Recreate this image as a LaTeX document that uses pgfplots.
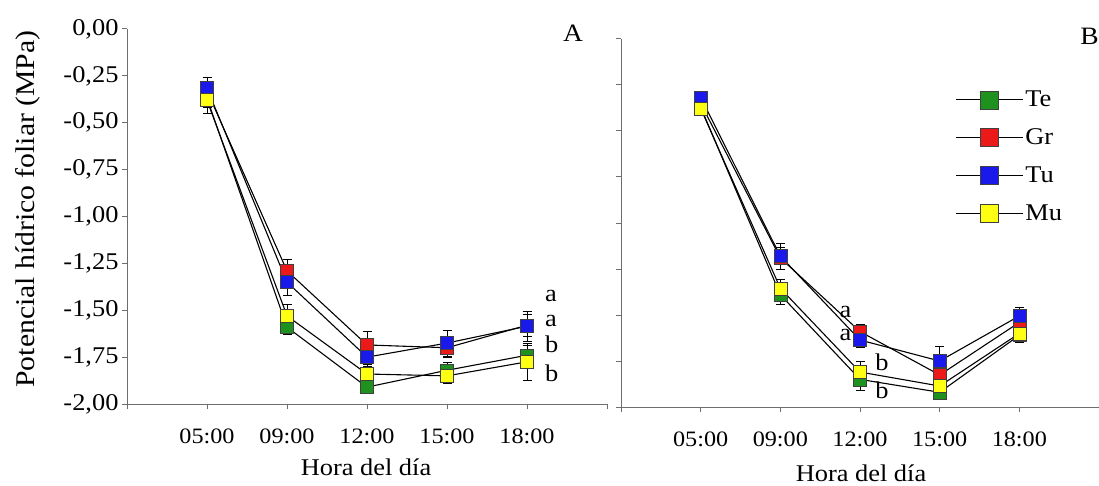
\documentclass[border=0pt]{standalone}
\usepackage{pgfplots}
\usepackage{pgfplotstable}
\pgfplotsset{compat=1.18}
\usepackage{fontspec}
\setmainfont[FakeStretch=1.1]{Liberation Serif}
\definecolor{cTe}{RGB}{30,145,30}
\definecolor{cGr}{RGB}{235,25,25}
\definecolor{cTu}{RGB}{25,25,235}
\definecolor{cMu}{RGB}{255,255,20}
\definecolor{axgray}{RGB}{110,110,110}

% Panel A
\pgfplotstableread{
x y e
0 -0.37 0.05
1 -1.59 0.04
2 -1.91 0.03
3 -1.82 0.04
4 -1.74 0.05
}\ATe
\pgfplotstableread{
x y e
0 -0.33 0.05
1 -1.29 0.06
2 -1.685 0.07
3 -1.70 0.05
4 -1.58 0.06
}\AGr
\pgfplotstableread{
x y e
0 -0.316 0.06
1 -1.35 0.07
2 -1.75 0.05
3 -1.675 0.07
4 -1.585 0.08
}\ATu
\pgfplotstableread{
x y e
0 -0.38 0.07
1 -1.53 0.06
2 -1.84 0.05
3 -1.85 0.04
4 -1.775 0.10
}\AMu
% Panel B
\pgfplotstableread{
x y e
0 -0.37 0.03
1 -1.39 0.05
2 -1.85 0.06
3 -1.92 0.04
4 -1.61 0.04
}\BTe
\pgfplotstableread{
x y e
0 -0.35 0.03
1 -1.19 0.06
2 -1.59 0.04
3 -1.826 0.05
4 -1.54 0.04
}\BGr
\pgfplotstableread{
x y e
0 -0.317 0.03
1 -1.18 0.07
2 -1.636 0.04
3 -1.75 0.08
4 -1.505 0.045
}\BTu
\pgfplotstableread{
x y e
0 -0.377 0.03
1 -1.355 0.05
2 -1.81 0.06
3 -1.886 0.04
4 -1.60 0.04
}\BMu

\pgfplotsset{
  panel/.style={
    scale only axis,
    axis lines=left,
    axis line style={-, draw=axgray, line width=1pt},
    xmin=-1, xmax=5, ymin=-2, ymax=0,
    xtick={-1,0,1,2,3,4,5},
    xticklabels={,05:00,09:00,12:00,15:00,18:00,},
    ytick={-2,-1.75,-1.5,-1.25,-1,-0.75,-0.5,-0.25,0},
    tick align=outside,
    major tick length=5pt,
    tick style={draw=axgray, line width=1pt},
    xticklabel style={font=\fontsize{22}{26}\selectfont, yshift=-16pt},
    yticklabel style={font=\fontsize{24}{28}\selectfont},
    clip=false,
    enlargelimits=false,
  },
  ser/.style={
    black, line width=1.1pt, mark=square*, mark size=6.5pt,
    mark options={fill=#1, draw=black!75, line width=0.5pt},
    error bars/.cd, y dir=both, y explicit,
    error bar style={black, line width=0.8pt},
    error mark options={rotate=90, mark size=4.5pt, black, line width=0.8pt},
  },
}

\begin{document}
\begin{tikzpicture}[x=1pt,y=1pt]
\useasboundingbox (0,0) rectangle (1099,-486);

\begin{axis}[panel, at={(127pt,-404pt)}, anchor=south west,
  width=480pt, height=375pt,
  yticklabels={{-2,00},{-1,75},{-1,50},{-1,25},{-1,00},{-0,75},{-0,50},{-0,25},{0,00}},
]
\addplot[ser=cTe] table[x=x,y=y,y error=e]{\ATe};
\addplot[ser=cGr] table[x=x,y=y,y error=e]{\AGr};
\addplot[ser=cTu] table[x=x,y=y,y error=e]{\ATu};
\addplot[ser=cMu] table[x=x,y=y,y error=e]{\AMu};
\node[anchor=base west, font=\fontsize{24}{28}\selectfont, inner sep=0pt] at (axis cs:4.225,-1.454) {a};
\node[anchor=base west, font=\fontsize{24}{28}\selectfont, inner sep=0pt] at (axis cs:4.225,-1.588) {a};
\node[anchor=base west, font=\fontsize{24}{28}\selectfont, inner sep=0pt] at (axis cs:4.225,-1.726) {b};
\node[anchor=base west, font=\fontsize{24}{28}\selectfont, inner sep=0pt] at (axis cs:4.225,-1.881) {b};
\node[font=\fontsize{25}{30}\selectfont] at (axis cs:4.575,-0.025) {A};
\end{axis}

\begin{axis}[panel, at={(621pt,-407pt)}, anchor=south west,
  width=478pt, height=368pt,
  yticklabels={},
  legend cell align=left,
  legend style={draw=none, fill=none, at={(0.699,0.864)}, anchor=north west,
    font=\fontsize{24}{28}\selectfont, row sep=16.5pt, inner sep=0pt},
  legend image code/.code={\draw[#1, mark size=9pt, mark repeat=2, mark phase=2]
     plot coordinates {(0pt,0pt) (33.5pt,0pt) (67pt,0pt)};},
]
\addplot[ser=cTe] table[x=x,y=y,y error=e]{\BTe};
\addplot[ser=cGr] table[x=x,y=y,y error=e]{\BGr};
\addplot[ser=cTu] table[x=x,y=y,y error=e]{\BTu};
\addplot[ser=cMu] table[x=x,y=y,y error=e]{\BMu};
\legend{Te,Gr,Tu,Mu}
\node[anchor=base west, font=\fontsize{24}{28}\selectfont, inner sep=0pt] at (axis cs:1.743,-1.513) {a};
\node[anchor=base west, font=\fontsize{24}{28}\selectfont, inner sep=0pt] at (axis cs:1.743,-1.641) {a};
\node[anchor=base west, font=\fontsize{24}{28}\selectfont, inner sep=0pt] at (axis cs:2.19,-1.80) {b};
\node[anchor=base west, font=\fontsize{24}{28}\selectfont, inner sep=0pt] at (axis cs:2.19,-1.953) {b};
\node[font=\fontsize{25}{30}\selectfont] at (axis cs:4.88,0.015) {B};
\end{axis}

\node[font=\fontsize{24}{28}\selectfont] at (366,-467) {Hora del día};
\node[font=\fontsize{24}{28}\selectfont] at (861,-473) {Hora del día};
\node[font=\fontsize{27}{32}\selectfont, rotate=90] at (28,-209) {Potencial hídrico foliar (MPa)};
\end{tikzpicture}
\end{document}
